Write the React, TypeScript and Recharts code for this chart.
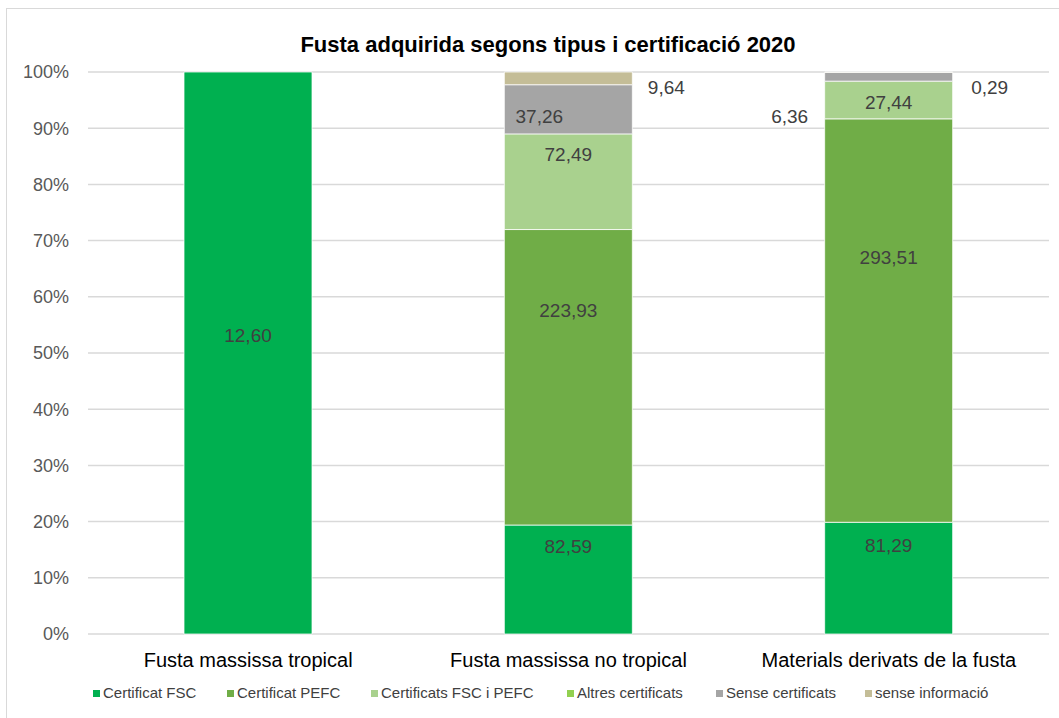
import { BarChart, Bar, XAxis, YAxis, CartesianGrid, LabelList } from 'recharts';

const CATEGORIES = ['Fusta massissa tropical', 'Fusta massissa no tropical', 'Materials derivats de la fusta'];

const FSC = [12.6, 82.59, 81.29];
const PEFC = [0, 223.93, 293.51];
const FSC_PEFC = [0, 72.49, 27.44];
const ALTRES = [0, 0, 0];
const SENSE_CERT = [0, 37.26, 6.36];
const SENSE_INFO = [0, 9.64, 0.29];

const Y_TICKS = [0, 0.1, 0.2, 0.3, 0.4, 0.5, 0.6, 0.7, 0.8, 0.9, 1];

const SERIES = [
  { key: 'fsc', label: 'Certificat FSC', color: '#00B050', values: FSC },
  { key: 'pefc', label: 'Certificat PEFC', color: '#70AD47', values: PEFC },
  { key: 'fscPefc', label: 'Certificats FSC i PEFC', color: '#A9D18E', values: FSC_PEFC },
  { key: 'altres', label: 'Altres certificats', color: '#92D050', values: ALTRES },
  { key: 'sense', label: 'Sense certificats', color: '#A5A5A5', values: SENSE_CERT },
  { key: 'senseInfo', label: 'sense informació', color: '#C4BD97', values: SENSE_INFO },
];

// label nudges from the segment centre, per category (labels were moved by hand in the original)
const LABEL_SHIFT: Record<string, [number, number][]> = {
  fsc: [[0, -18], [0, -33], [0, -33]],
  pefc: [[0, 0], [0, -67], [0, -63]],
  fscPefc: [[0, 0], [0, -27], [0, 3]],
  altres: [[0, 0], [0, 0], [0, 0]],
  sense: [[0, 0], [-29, 7], [-99, 40]],
  senseInfo: [[0, 0], [98, 9], [101, 15]],
};

const LEGEND_X = [93, 227, 371, 567, 716, 865];

const data = CATEGORIES.map((name, i) => {
  const row: Record<string, string | number> = { name };
  SERIES.forEach((s) => {
    row[s.key] = s.values[i];
  });
  return row;
});

const FONT = '"Liberation Sans", Arial, sans-serif';

const fmt = (v: number) => v.toFixed(2).replace('.', ',');

const makeLabel = (seriesKey: string) => (props: any) => {
  const vb = props.viewBox ?? {};
  const x = Number(props.x ?? vb.x);
  const y = Number(props.y ?? vb.y);
  const w = Number(props.width ?? vb.width);
  const h = Number(props.height ?? vb.height);
  const value = Number(props.value);
  if (!value) return null;
  const values = SERIES.find((s) => s.key === seriesKey)!.values;
  const index = values.indexOf(value);
  const [dx, dy] = (index >= 0 && LABEL_SHIFT[seriesKey][index]) || [0, 0];
  const top = Math.min(y, y + h);
  const cx = x + w / 2 + dx;
  const cy = top + Math.abs(h) / 2 + dy;
  return (
    <text
      x={cx}
      y={cy}
      textAnchor="middle"
      dominantBaseline="central"
      fontSize={19}
      fill="#404040"
      fontFamily={FONT}
    >
      {fmt(value)}
    </text>
  );
};

export default function App() {
  return (
    <div
      style={{
        position: 'fixed',
        left: 0,
        top: 0,
        width: 1059,
        height: 718,
        overflow: 'hidden',
        background: '#fff',
        fontFamily: FONT,
      }}
    >
      <div
        style={{
          position: 'absolute',
          left: 6,
          top: 8,
          width: 1200,
          height: 800,
          borderLeft: '1px solid #D9D9D9',
          borderTop: '1px solid #D9D9D9',
        }}
      />
      <div
        style={{
          position: 'absolute',
          left: 0,
          width: 1096,
          top: 31,
          textAlign: 'center',
          fontSize: 22,
          fontWeight: 'bold',
          color: '#000',
          lineHeight: '28px',
        }}
      >
        Fusta adquirida segons tipus i certificació 2020
      </div>
      <div style={{ position: 'absolute', left: 0, top: 0 }}>
        <BarChart
          width={1059}
          height={718}
          data={data}
          stackOffset="expand"
          margin={{ top: 72, right: 10, bottom: 44, left: 0 }}
          barSize={128}
        >
          <CartesianGrid vertical={false} stroke="#D9D9D9" strokeWidth={1.5} />
          <XAxis
            dataKey="name"
            axisLine={false}
            tickLine={false}
            tickSize={0}
            tickMargin={19}
            height={40}
            interval={0}
            tick={{ fontSize: 20, fill: '#000', fontFamily: FONT }}
          />
          <YAxis
            width={88}
            domain={[0, 1]}
            ticks={Y_TICKS}
            axisLine={false}
            tickLine={false}
            tickSize={0}
            tickMargin={19}
            tickFormatter={(v: number) => `${Math.round(v * 100)}%`}
            tick={{ fontSize: 18, fill: '#595959', fontFamily: FONT }}
          />
          {SERIES.map((s) => (
            <Bar
              key={s.key}
              dataKey={s.key}
              stackId="a"
              fill={s.color}
              stroke="#fff"
              strokeWidth={0.75}
              isAnimationActive={false}
            >
              <LabelList dataKey={s.key} content={makeLabel(s.key)} />
            </Bar>
          ))}
        </BarChart>
      </div>
      {SERIES.map((s, i) => (
        <div
          key={s.key}
          style={{
            position: 'absolute',
            left: LEGEND_X[i],
            top: 684,
            display: 'flex',
            alignItems: 'center',
            fontSize: 15,
            color: '#404040',
            whiteSpace: 'nowrap',
            lineHeight: '18px',
          }}
        >
          <span style={{ display: 'inline-block', width: 7, height: 7, background: s.color, marginRight: 3 }} />
          {s.label}
        </div>
      ))}
    </div>
  );
}
